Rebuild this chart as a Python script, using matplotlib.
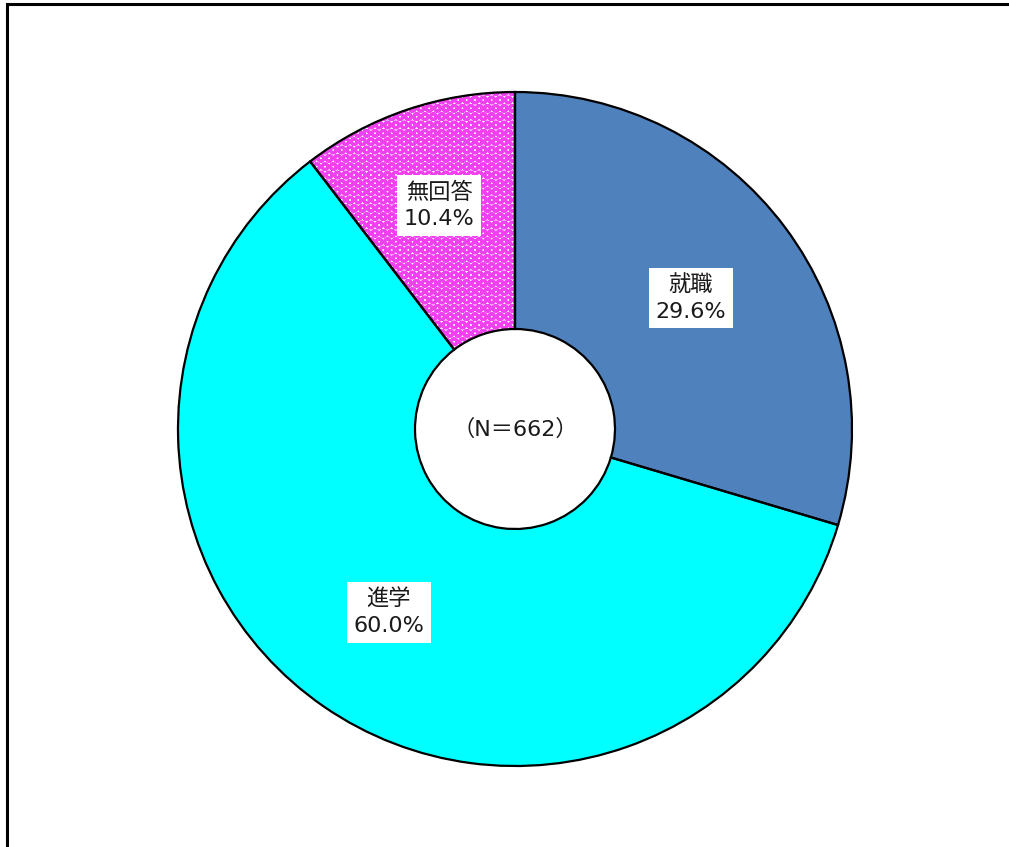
import numpy as np
import matplotlib
matplotlib.use('Agg')
import matplotlib.pyplot as plt
from matplotlib.patches import Rectangle

plt.rcParams['font.family'] = ['DejaVu Sans', 'Noto Sans CJK JP']
plt.rcParams['hatch.linewidth'] = 2.2

labels = ['就職', '進学', '無回答']
values = [29.6, 60.0, 10.4]
colors = ['#4F81BD', '#00FFFF', '#FFFFFF']
hatches = [None, None, 'OO']
hatch_color = '#F040F0'
total_n = 662

fig = plt.figure(figsize=(10.09, 8.47), dpi=100)
ax = fig.add_axes([0, 0, 1, 1])

hole = 100 / 337

# fill layer
wedges, _ = ax.pie(values, colors=colors, startangle=90, counterclock=False,
                   radius=1, wedgeprops=dict(width=1 - hole, linewidth=0))
for w, h in zip(wedges, hatches):
    if h:
        w.set_hatch(h)
        w.set_edgecolor(hatch_color)
        w.set_linewidth(0)

# outline layer
ax.pie(values, colors=['none'] * 3, startangle=90, counterclock=False,
       radius=1, wedgeprops=dict(width=1 - hole, linewidth=1.6,
                                 edgecolor='black', facecolor='none'))

# pie() resets the limits, so set them afterwards
ax.set_xlim(-515 / 337, (1009 - 515) / 337)
ax.set_ylim(-(847 - 429) / 337, 429 / 337)
ax.set_aspect('auto')
ax.axis('off')

label_r = [0.65, 0.66, 0.70]
for w, lab, v, r in zip(wedges, labels, values, label_r):
    ang = np.deg2rad((w.theta1 + w.theta2) / 2)
    ax.text(r * np.cos(ang), r * np.sin(ang), f'{lab}\n{v:.1f}%',
            ha='center', va='center', fontsize=16, linespacing=1.4,
            color='#1a1a1a',
            bbox=dict(boxstyle='square,pad=0.3', facecolor='white', edgecolor='none'))

ax.text(0, 0, f'（N＝{total_n}）', ha='center', va='center', fontsize=16, color='#1a1a1a')

fig.patches.append(Rectangle((6.5 / 1009, -0.1), 1.2, 1 - 4.5 / 847 + 0.1,
                             transform=fig.transFigure, fill=False,
                             edgecolor='black', linewidth=2.2))

fig.savefig('out.png', dpi=100)
